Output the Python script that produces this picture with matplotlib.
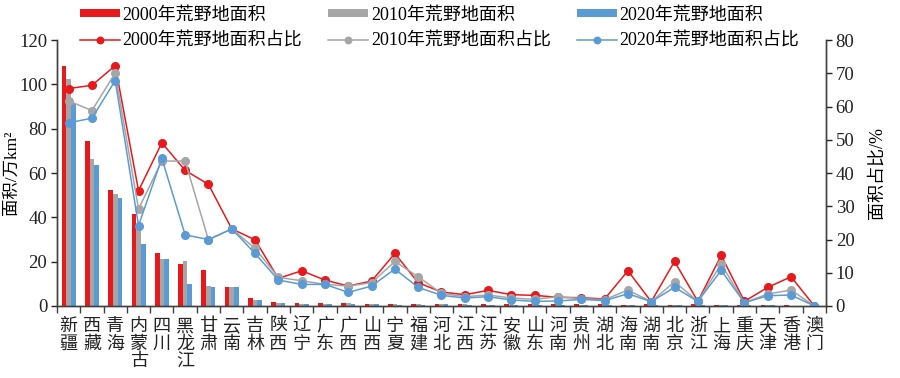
import matplotlib
matplotlib.use("Agg")
import matplotlib.pyplot as plt
import numpy as np

plt.rcParams['font.family'] = ['Liberation Serif', 'Noto Sans CJK SC']
plt.rcParams['axes.unicode_minus'] = False

provinces = ['新疆', '西藏', '青海', '内蒙古', '四川', '黑龙江', '甘肃', '云南', '吉林', '陕西',
             '辽宁', '广东', '广西', '山西', '宁夏', '福建', '河北', '江西', '江苏', '安徽',
             '山东', '河南', '贵州', '湖北', '海南', '湖南', '北京', '浙江', '上海', '重庆',
             '天津', '香港', '澳门']

area_2000 = [108.5, 74.6, 52.3, 41.4, 23.8, 19.1, 16.2, 8.4, 3.8, 1.6,
             1.5, 1.5, 1.5, 0.9, 0.8, 0.9, 0.9, 0.8, 0.8, 0.7,
             0.7, 0.7, 0.8, 0.7, 0.6, 0.8, 0.6, 0.8, 0.5, 0.5,
             0.4, 0.3, 0.0]
area_2010 = [102.4, 66.3, 50.4, 34.3, 21.0, 20.4, 9.2, 8.4, 2.9, 1.5,
             0.9, 1.1, 1.5, 0.8, 0.7, 0.8, 0.8, 0.7, 0.6, 0.5,
             0.5, 0.6, 0.6, 0.6, 0.4, 0.6, 0.5, 0.6, 0.4, 0.4,
             0.3, 0.2, 0.0]
area_2020 = [91.5, 63.5, 48.9, 28.0, 21.0, 9.9, 8.4, 8.4, 2.9, 1.4,
             0.9, 0.9, 1.0, 0.8, 0.6, 0.6, 0.7, 0.6, 0.5, 0.5,
             0.4, 0.4, 0.5, 0.5, 0.3, 0.5, 0.4, 0.5, 0.4, 0.3,
             0.3, 0.2, 0.0]

share_2000 = [65.4, 66.4, 72.3, 34.7, 49.1, 40.8, 36.6, 23.2, 19.9, 8.3,
              10.6, 7.8, 6.0, 7.5, 15.8, 7.0, 4.2, 3.4, 4.7, 3.4,
              3.2, 2.6, 2.5, 2.1, 10.6, 1.3, 13.4, 1.4, 15.2, 1.4,
              5.6, 8.8, 0.0]
share_2010 = [61.7, 58.8, 70.1, 29.2, 43.6, 43.6, 19.9, 23.2, 17.3, 8.6,
              7.6, 6.5, 6.0, 7.0, 13.4, 8.8, 3.8, 2.8, 3.3, 2.4,
              2.0, 2.8, 2.2, 1.9, 4.8, 1.3, 7.3, 1.4, 12.6, 1.0,
              3.6, 4.8, 0.0]
share_2020 = [55.1, 56.5, 67.8, 24.2, 44.4, 21.4, 20.0, 23.2, 15.8, 7.8,
              6.5, 6.5, 4.1, 6.0, 11.1, 5.6, 3.2, 2.4, 2.8, 1.8,
              1.4, 1.5, 2.0, 1.6, 3.7, 1.3, 5.6, 1.4, 10.7, 1.0,
              3.1, 3.3, 0.0]

c_red = '#E8191C'
c_gray = '#A6A6A6'
c_blue = '#5B9BD5'

fig = plt.figure(figsize=(9, 3.78), dpi=100)
ax = fig.add_axes([0.0633, 0.1905, 0.8545, 0.7035])
ax2 = ax.twinx()

x = np.arange(len(provinces))
w = 0.2
b1 = ax.bar(x - w, area_2000, w, color=c_red, label='2000年荒野地面积')
b2 = ax.bar(x, area_2010, w, color=c_gray, label='2010年荒野地面积')
b3 = ax.bar(x + w, area_2020, w, color=c_blue, label='2020年荒野地面积')

l1, = ax2.plot(x, share_2000, color=c_red, lw=1.1, marker='o', ms=5.5, label='2000年荒野地面积占比')
l2, = ax2.plot(x, share_2010, color=c_gray, lw=1.1, marker='o', ms=5.5, label='2010年荒野地面积占比')
l3, = ax2.plot(x, share_2020, color=c_blue, lw=1.1, marker='o', ms=5.5, label='2020年荒野地面积占比')

ax.set_xlim(-0.5, len(provinces) - 0.5)
ax.set_ylim(0, 120)
ax2.set_ylim(0, 80)
ax.set_yticks(np.arange(0, 121, 20))
ax2.set_yticks(np.arange(0, 81, 10))

ax.set_xticks(np.arange(-0.5, len(provinces), 1.0))
ax.set_xticklabels([])
ax.tick_params(axis='x', direction='out', length=5, width=1, color='#404040')
for i, name in enumerate(provinces):
    ax.text(i, -5.5, '\n'.join(name), ha='center', va='top', fontsize=13,
            linespacing=1.05, transform=ax.transData, color='#222222')

ax.tick_params(axis='y', direction='out', length=4, width=1, labelsize=13.5, colors='#222222', pad=3)
ax2.tick_params(axis='y', direction='out', length=4, width=1, labelsize=13.5, colors='#222222', pad=3)

for a in (ax, ax2):
    a.spines['top'].set_visible(False)
    for s in ('left', 'right', 'bottom'):
        a.spines[s].set_color('#404040')
        a.spines[s].set_linewidth(1)

ax.set_ylabel('面积/万km²', fontsize=12.5)
ax.yaxis.set_label_coords(-0.048, 0.5)
ax2.set_ylabel('面积占比/%', fontsize=13, labelpad=10)

handles = [b1, l1, b2, l2, b3, l3]
labels = [h.get_label() for h in handles]
fig.legend(handles, labels, ncol=3, loc='upper left', bbox_to_anchor=(0.071, 1.025),
           frameon=False, fontsize=13, handlelength=2.2, handleheight=0.3,
           columnspacing=1.45, handletextpad=0.15, labelspacing=0.45, markerscale=0.85)

fig.savefig('out.png', dpi=100)
